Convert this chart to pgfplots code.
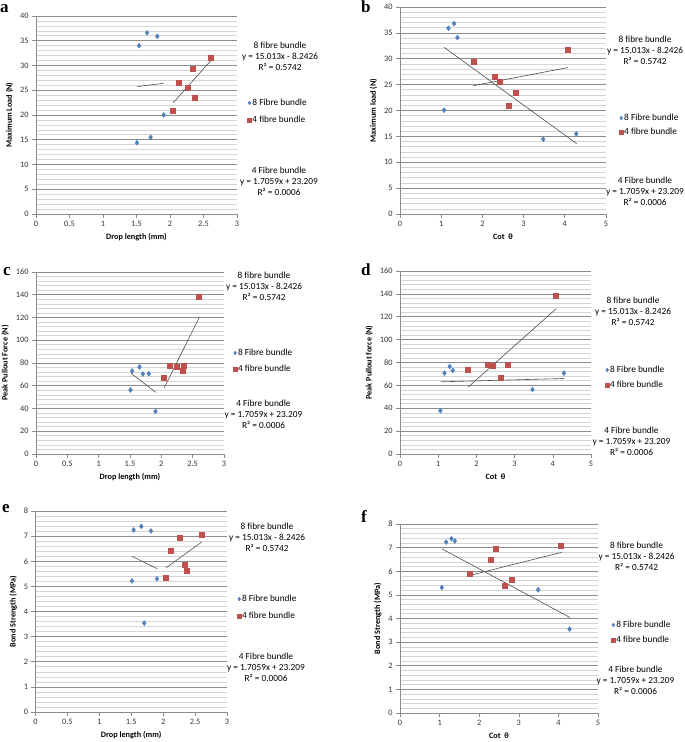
\documentclass[border=0pt]{standalone}
\usepackage{fontspec}
\setmainfont{Carlito}
\newfontfamily\serifb{Liberation Serif}
\usepackage{pgfplots}
\pgfplotsset{compat=1.18}
\definecolor{eblue}{HTML}{4F81BD}
\definecolor{ered}{HTML}{C0504D}
\definecolor{majgrid}{HTML}{8C8C8C}
\definecolor{mingrid}{HTML}{D4D4D4}
\pgfplotsset{
  excel/.style={
    scale only axis, anchor=south west, clip=false,
    axis x line=bottom, axis y line=left,
    axis line style={-, draw=majgrid, line width=0.6pt},
    ymajorgrids, yminorgrids, minor y tick num=4,
    major grid style={draw=majgrid, line width=0.6pt},
    minor grid style={draw=mingrid, line width=0.6pt},
    tick style={draw=majgrid, line width=0.6pt},
    major tick length=4pt, minor tick length=0pt, tick align=outside,
    ticklabel style={font=\fontsize{8.3}{10}\selectfont, text=black!80},
    /pgf/number format/assume math mode=true,
    label style={font=\bfseries\fontsize{8.2}{10}\selectfont},
    legend cell align=left,
    legend style={draw=none, fill=none, inner sep=0pt, anchor=west,
      font=\fontsize{9.3}{11}\selectfont,
      nodes={inner sep=1pt, text height=7pt, text depth=2pt}},
    legend image code/.code={\draw[##1, mark size=1.9pt] plot coordinates {(0pt,0pt)};},
  },
  dropx/.style={xmin=0, xmax=3, xtick={0,0.5,...,3}, xlabel={Drop length (mm)}},
  cotx/.style={xmin=0, xmax=5, xtick={0,1,...,5}, xlabel={Cot~ θ}},
  b8/.style={only marks, mark=diamond*, mark size=2.5pt, color=eblue},
  r4/.style={only marks, mark=square*, mark size=2.5pt, color=ered},
  tr/.style={forget plot, no marks, draw=black!70, line width=0.6pt},
}
\newcommand\eqblock[5]{\node[align=center, font=\fontsize{9.3}{11}\selectfont] at (#1pt,#2pt) {#3\\#4\\#5};}
\begin{document}
\begin{tikzpicture}
% ---------- a ----------
\begin{axis}[excel, dropx, at={(36pt,528pt)}, width=201pt, height=198pt,
  ymin=0, ymax=40, ytick={0,5,...,40}, ylabel={Maximum Load (N)},
  legend style={at={(1.052,0.518)}, row sep=6pt}]
\addplot[b8] coordinates {(1.537,34.0) (1.657,36.6) (1.811,35.9) (1.905,20.0) (1.711,15.5) (1.507,14.4)};
\addlegendentry{8 Fibre bundle}
\addplot[r4] coordinates {(2.602,31.6) (2.343,29.4) (2.129,26.6) (2.259,25.5) (2.373,23.5) (2.045,20.9)};
\addlegendentry{4 fibre bundle}
\addplot[tr] coordinates {(1.512,25.75) (1.905,26.4)};
\addplot[tr] coordinates {(2.05,22.5) (2.61,31.0)};
\end{axis}
% ---------- b ----------
\begin{axis}[excel, cotx, at={(400pt,528pt)}, width=206pt, height=207pt,
  ymin=0, ymax=40, ytick={0,5,...,40}, ylabel={Maximum load (N)},
  legend style={at={(1.064,0.430)}, row sep=3pt}]
\addplot[b8] coordinates {(1.175,35.9) (1.313,36.8) (1.394,34.1) (1.07,20.06) (3.477,14.45) (4.279,15.48)};
\addlegendentry{8 Fibre bundle}
\addplot[r4] coordinates {(1.783,29.5) (2.293,26.6) (2.423,25.5) (2.82,23.4) (2.65,20.9) (4.068,31.7)};
\addlegendentry{4 fibre bundle}
\addplot[tr] coordinates {(1.07,32.2) (4.287,13.6)};
\addplot[tr] coordinates {(1.783,24.8) (4.076,28.3)};
\end{axis}
% ---------- c ----------
\begin{axis}[excel, dropx, at={(36pt,288pt)}, width=188pt, height=182pt,
  ymin=0, ymax=160, ytick={0,20,...,160}, ylabel={Peak Pullout Force (N)},
  legend style={at={(1.048,0.511)}, row sep=5pt}]
\addplot[b8] coordinates {(1.535,73.0) (1.652,76.5) (1.705,70.3) (1.80,70.6) (1.508,56.3) (1.907,37.5)};
\addlegendentry{8 Fibre bundle}
\addplot[r4] coordinates {(2.602,138.6) (2.13,77.7) (2.252,76.8) (2.363,77.9) (2.342,73.3) (2.039,67.1)};
\addlegendentry{4 fibre bundle}
\addplot[tr] coordinates {(1.519,70.9) (1.912,54.2)};
\addplot[tr] coordinates {(2.045,58.0) (2.608,120.4)};
\end{axis}
% ---------- d ----------
\begin{axis}[excel, cotx, at={(400pt,288pt)}, width=191pt, height=183pt,
  ymin=0, ymax=160, ytick={0,20,...,160}, ylabel={Peak Pullout force (N)},
  legend style={at={(1.074,0.418)}, row sep=4pt}]
\addplot[b8] coordinates {(1.163,70.7) (1.302,76.5) (1.381,73.0) (1.058,37.8) (3.47,56.4) (4.29,70.7)};
\addlegendentry{8 Fibre bundle}
\addplot[r4] coordinates {(1.766,73.6) (2.30,77.7) (2.43,77.1) (2.815,78.3) (2.64,66.9) (4.073,138.8)};
\addlegendentry{4 fibre bundle}
\addplot[tr] coordinates {(1.058,63.1) (4.29,66.0)};
\addplot[tr] coordinates {(1.774,58.2) (4.09,127.1)};
\end{axis}
% ---------- e ----------
\begin{axis}[excel, dropx, at={(35.5pt,30pt)}, width=191.5pt, height=201pt,
  ymin=0, ymax=8, ytick={0,1,...,8}, ylabel={Bond Strength (MPa)},
  legend style={at={(1.053,0.520)}, row sep=6pt}]
\addplot[b8] coordinates {(1.537,7.245) (1.657,7.39) (1.809,7.205) (1.511,5.22) (1.903,5.30) (1.704,3.54)};
\addlegendentry{8 Fibre bundle}
\addplot[r4] coordinates {(2.603,7.07) (2.253,6.93) (2.117,6.44) (2.337,5.85) (2.363,5.64) (2.039,5.35)};
\addlegendentry{4 fibre bundle}
\addplot[tr] coordinates {(1.511,6.2) (1.908,5.7)};
\addplot[tr] coordinates {(2.044,5.74) (2.608,6.77)};
\end{axis}
% ---------- f ----------
\begin{axis}[excel, cotx, at={(400pt,29pt)}, width=198pt, height=189pt,
  ymin=0, ymax=8, ytick={0,1,...,8}, ylabel={Bond Strength (MPa)},
  legend style={at={(1.067,0.426)}, row sep=4pt}]
\addplot[b8] coordinates {(1.166,7.235) (1.30,7.38) (1.385,7.28) (1.056,5.31) (3.488,5.22) (4.282,3.55)};
\addlegendentry{8 Fibre bundle}
\addplot[r4] coordinates {(1.765,5.876) (2.289,6.47) (2.416,6.95) (2.81,5.66) (2.643,5.37) (4.07,7.09)};
\addlegendentry{4 fibre bundle}
\addplot[tr] coordinates {(1.056,6.95) (4.30,4.035)};
\addplot[tr] coordinates {(1.774,5.83) (4.08,6.80)};
\end{axis}
% ---------- equation texts ----------
\eqblock{280}{685.5}{8 fibre bundle}{y = 15.013x - 8.2426}{R² = 0.5742}
\eqblock{279}{560.5}{4 Fibre bundle}{y = 1.7059x + 23.209}{R² = 0.0006}
\eqblock{645}{692}{8 fibre bundle}{y = 15.013x - 8.2426}{R² = 0.5742}
\eqblock{645}{550.5}{4 Fibre bundle}{y = 1.7059x + 23.209}{R² = 0.0006}
\eqblock{264}{455.5}{8 fibre bundle}{y = 15.013x - 8.2426}{R² = 0.5742}
\eqblock{263.5}{327.5}{4 Fibre bundle}{y = 1.7059x + 23.209}{R² = 0.0006}
\eqblock{633}{431}{8 fibre bundle}{y = 15.013x - 8.2426}{R² = 0.5742}
\eqblock{631.5}{301}{4 Fibre bundle}{y = 1.7059x + 23.209}{R² = 0.0006}
\eqblock{267}{205}{8 fibre bundle}{y = 15.013x - 8.2426}{R² = 0.5742}
\eqblock{266}{74.5}{4 Fibre bundle}{y = 1.7059x + 23.209}{R² = 0.0006}
\eqblock{636.5}{186}{8 fibre bundle}{y = 15.013x - 8.2426}{R² = 0.5742}
\eqblock{635.5}{61.5}{4 Fibre bundle}{y = 1.7059x + 23.209}{R² = 0.0006}
% ---------- panel letters ----------
\tikzset{plab/.style={anchor=base west, inner sep=0pt, font=\serifb\bfseries\fontsize{17}{17}\selectfont}}
\node[plab] at (0pt,729pt) {a};
\node[plab] at (361pt,729pt) {b};
\node[plab] at (3pt,466pt) {c};
\node[plab] at (361pt,466pt) {d};
\node[plab] at (2pt,229pt) {e};
\node[plab] at (361pt,219pt) {f};
\pgfresetboundingbox
\useasboundingbox (0pt,0pt) rectangle (685pt,742pt);
\end{tikzpicture}
\end{document}
